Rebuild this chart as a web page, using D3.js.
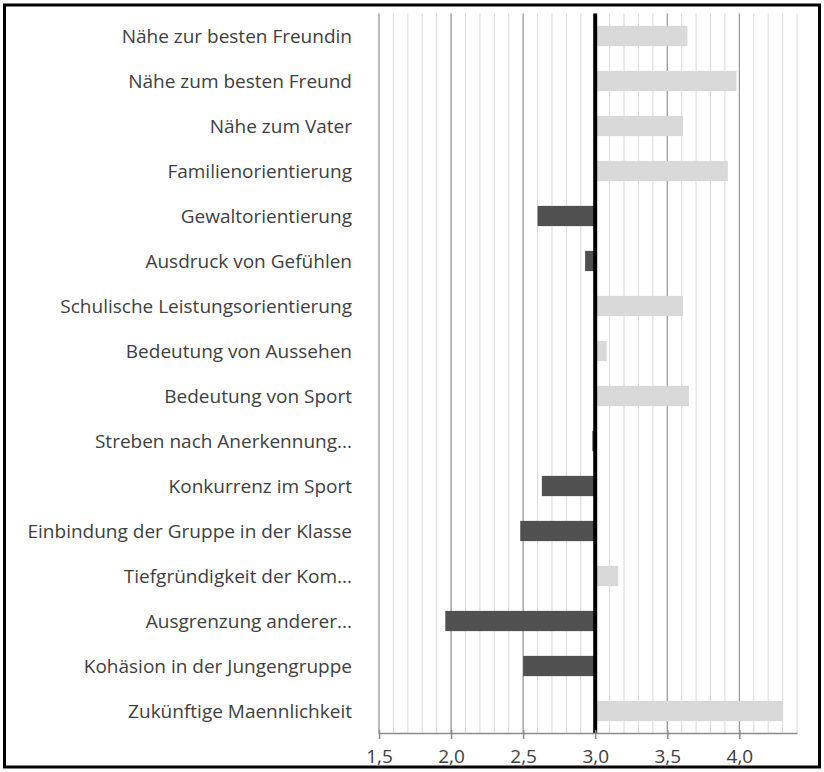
<!DOCTYPE html>
<html>

<head>
  <meta charset="utf-8">
  <title>Männlichkeit – Mittelwerte</title>
  <script type="text/javascript" src="https://cdn.jsdelivr.net/npm/d3@7"></script>
  <style>
    body {
      margin: 0;
      background-color: white;
    }

    svg {
      display: block;
      font-family: "Open Sans", Lato, sans-serif;
    }
  </style>
</head>

<body>

  <script type="text/javascript">

    // Kategorien (von oben nach unten)
    const labels = [
      "Nähe zur besten Freundin",
      "Nähe zum besten Freund",
      "Nähe zum Vater",
      "Familienorientierung",
      "Gewaltorientierung",
      "Ausdruck von Gefühlen",
      "Schulische Leistungsorientierung",
      "Bedeutung von Aussehen",
      "Bedeutung von Sport",
      "Streben nach Anerkennung...",
      "Konkurrenz im Sport",
      "Einbindung der Gruppe in der Klasse",
      "Tiefgründigkeit der Kom...",
      "Ausgrenzung anderer...",
      "Kohäsion in der Jungengruppe",
      "Zukünftige Maennlichkeit"
    ];

    // Mittelwerte
    const values = [3.64, 3.98, 3.61, 3.92, 2.60, 2.93, 3.61, 3.08, 3.65, 2.98, 2.63, 2.48, 3.16, 1.96, 2.50, 4.30];

    // Achsenbeschriftungen
    const tickValues = [1.5, 2.0, 2.5, 3.0, 3.5, 4.0];
    const baseline = 3.0;

    const data = labels.map(function (l, i) {
      return { label: l, value: values[i] };
    });

    // Width og height
    const w = 824;
    const h = 772;
    const plot = { left: 379, right: 797, top: 13.5, bottom: 733.5 };

    const xScale = d3.scaleLinear()
      .domain([1.5, 4.4])
      .range([plot.left, plot.right]);

    const yScale = d3.scaleBand()
      .domain(labels)
      .range([plot.top, plot.bottom])
      .paddingInner(0.55)
      .paddingOuter(0.275);

    const svg = d3.select("body")
      .append("svg")
      .attr("width", w)
      .attr("height", h);

    // Rahmen
    svg.append("rect")
      .attr("x", 4.5)
      .attr("y", 5)
      .attr("width", 815)
      .attr("height", 762)
      .attr("fill", "none")
      .attr("stroke", "black")
      .attr("stroke-width", 3);

    // Hilfslinien alle 0,1
    const minor = d3.range(15, 45).map(function (d) { return d / 10; });
    svg.append("g")
      .selectAll("line")
      .data(minor)
      .enter()
      .append("line")
      .attr("x1", function (d) { return xScale(d); })
      .attr("x2", function (d) { return xScale(d); })
      .attr("y1", plot.top)
      .attr("y2", plot.bottom)
      .attr("stroke", "#d9d9d9")
      .attr("stroke-width", 1);

    // Hauptgitter alle 0,5
    svg.append("g")
      .selectAll("line")
      .data(tickValues)
      .enter()
      .append("line")
      .attr("x1", function (d) { return xScale(d); })
      .attr("x2", function (d) { return xScale(d); })
      .attr("y1", plot.top)
      .attr("y2", plot.bottom)
      .attr("stroke", "#8c8c8c")
      .attr("stroke-width", 1);

    // Balken
    svg.append("g")
      .selectAll("rect")
      .data(data)
      .enter()
      .append("rect")
      .attr("x", function (d) { return xScale(Math.min(d.value, baseline)); })
      .attr("y", function (d) { return yScale(d.label); })
      .attr("width", function (d) { return Math.abs(xScale(d.value) - xScale(baseline)); })
      .attr("height", yScale.bandwidth())
      .attr("fill", function (d) { return d.value < baseline ? "#505050" : "#d9d9d9"; });

    // Nulllinie bei 3,0
    svg.append("line")
      .attr("x1", xScale(baseline))
      .attr("x2", xScale(baseline))
      .attr("y1", plot.top)
      .attr("y2", plot.bottom)
      .attr("stroke", "black")
      .attr("stroke-width", 4);

    // x-Achse
    const xAxis = d3.axisBottom(xScale)
      .tickValues(tickValues)
      .tickSizeInner(6)
      .tickSizeOuter(0)
      .tickPadding(11)
      .tickFormat(function (d) { return d3.format(".1f")(d).replace(".", ","); });

    const gx = svg.append("g")
      .attr("transform", "translate(0," + (plot.bottom - 0.5) + ")")
      .call(xAxis);
    gx.select(".domain").attr("stroke", "#8c8c8c").attr("stroke-width", 1.5);
    gx.selectAll(".tick line").attr("stroke", "#8c8c8c").attr("y1", -3).attr("stroke-width", 1.5);
    gx.selectAll(".tick text")
      .attr("fill", "#404040")
      .style("font-size", "19px")
      .style("font-family", "'Open Sans', Lato, sans-serif");

    // Kategorienbeschriftung
    svg.append("g")
      .selectAll("text")
      .data(data)
      .enter()
      .append("text")
      .attr("x", 352)
      .attr("y", function (d) { return yScale(d.label) + yScale.bandwidth() / 2; })
      .attr("dy", "0.35em")
      .attr("text-anchor", "end")
      .attr("fill", "#404040")
      .style("font-size", "19px")
      .text(function (d) { return d.label; });

  </script>
</body>

</html>
